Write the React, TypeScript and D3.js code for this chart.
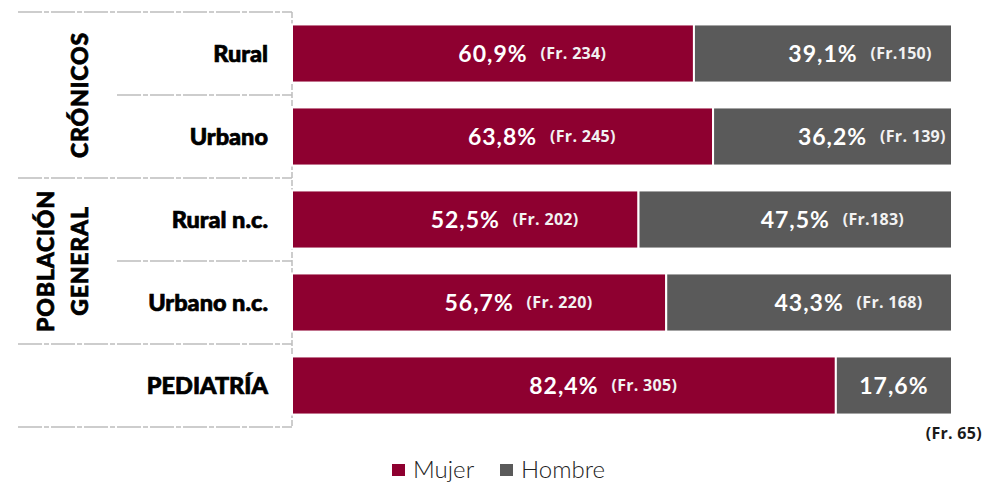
import React from "react";
import * as d3 from "d3";

const rows = ["Rural", "Urbano", "Rural n.c.", "Urbano n.c.", "PEDIATRÍA"];
const mujerPct = [60.9, 63.8, 52.5, 56.7, 82.4];
const hombrePct = [39.1, 36.2, 47.5, 43.3, 17.6];
const mujerFr = ["(Fr. 234)", "(Fr. 245)", "(Fr. 202)", "(Fr. 220)", "(Fr. 305)"];
const hombreFr = ["(Fr.150)", "(Fr. 139)", "(Fr.183)", "(Fr. 168)", "(Fr. 65)"];
const groups = [
  { lines: ["CRÓNICOS"], rows: ["Rural", "Urbano"] },
  { lines: ["POBLACIÓN", "GENERAL"], rows: ["Rural n.c.", "Urbano n.c."] },
];
const seriesNames = ["Mujer", "Hombre"];

const W = 983;
const H = 482;
const RED = "#8e0030";
const GRAY = "#5a5a5a";

const fmt = (v: number) => v.toFixed(1).replace(".", ",") + "%";

export default function App() {
  const x = d3.scaleLinear().domain([0, 100]).range([292, 952]);
  const y = d3.scaleBand<string>().domain(rows).range([12, 427]).paddingInner(0.3).paddingOuter(0.15);
  const step = y.step();
  const top = 12;
  const pctFont = "Lato, 'DejaVu Sans', sans-serif";
  const frFont = "'Open Sans', 'DejaVu Sans', sans-serif";
  const labelFont = "Lato, 'DejaVu Sans', sans-serif";

  const pctWidth = 67;
  const gap = 14;

  const boundaries = rows.map((_, i) => top + (i + 1) * step);

  return (
    <svg width={W} height={H} style={{ position: "absolute", left: 0, top: 0, background: "#fff" }}>
      {/* grid lines */}
      <g stroke="#bdbdbd" strokeWidth={1.5} fill="none">
        <line x1={18} x2={292} y1={top} y2={top} strokeDasharray="24,2,5,2" />
        {boundaries.map((b, i) => {
          const r = rows[i];
          const inGroupNotLast = groups.some(
            (g) => g.rows.indexOf(r) >= 0 && g.rows.indexOf(r) < g.rows.length - 1
          );
          return (
            <line key={i} x1={inGroupNotLast ? 117 : 18} x2={292} y1={b} y2={b} strokeDasharray="24,2,5,2" />
          );
        })}
        <line x1={292} x2={292} y1={top} y2={top + rows.length * step} strokeDasharray="6,2" />
      </g>

      {/* bars */}
      {rows.map((r, i) => {
        const y0 = y(r)!;
        const bh = y.bandwidth();
        const cy = y0 + bh / 2;
        const xm0 = x(0);
        const xm1 = x(mujerPct[i]);
        const xh1 = x(mujerPct[i] + hombrePct[i]);
        const cm = (xm0 + xm1) / 2;
        const ch = (xm1 + xh1) / 2;
        const last = i === rows.length - 1;
        const pctProps = {
          textAnchor: "middle" as const,
          fill: "#fff",
          fontFamily: pctFont,
          fontWeight: 700,
          fontSize: 23,
          letterSpacing: 1,
          dy: "0.38em",
        };
        const frProps = {
          fill: "#f2f2f2",
          fontFamily: frFont,
          fontWeight: 700,
          fontSize: 16,
          letterSpacing: 0.3,
          dy: "0.36em",
        };
        return (
          <g key={r}>
            <rect x={xm0} y={y0} width={xm1 - xm0} height={bh} fill={RED} stroke="#fff" strokeWidth={2} />
            <rect x={xm1} y={y0} width={xh1 - xm1} height={bh} fill={GRAY} stroke="#fff" strokeWidth={2} />
            <text x={cm} y={cy} {...pctProps}>{fmt(mujerPct[i])}</text>
            <text x={cm + pctWidth / 2 + gap} y={cy} {...frProps}>{mujerFr[i]}</text>
            <text x={ch} y={cy} {...pctProps}>{fmt(hombrePct[i])}</text>
            {last ? (
              <text x={W - 1} y={y0 + bh + 24} textAnchor="end" fill="#1a1a1a" fontFamily={frFont} fontWeight={700} fontSize={16} letterSpacing={0.3}>
                {hombreFr[i]}
              </text>
            ) : (
              <text x={ch + pctWidth / 2 + gap} y={cy} {...frProps}>{hombreFr[i]}</text>
            )}
            <text
              x={268}
              y={cy}
              dy="0.36em"
              textAnchor="end"
              fill="#000"
              stroke="#000"
              strokeWidth={0.7}
              fontFamily={labelFont}
              fontWeight={900}
              fontSize={23.5}
            >
              {r}
            </text>
          </g>
        );
      })}

      {/* group labels */}
      {groups.map((g) => {
        const y0 = y(g.rows[0])! - (step - y.bandwidth()) / 2;
        const y1 = y(g.rows[g.rows.length - 1])! + y.bandwidth() + (step - y.bandwidth()) / 2;
        const cy = (y0 + y1) / 2;
        const n = g.lines.length;
        return (
          <g key={g.lines.join()}>
            {g.lines.map((l, k) => {
              const cx = 80 - (n - 1 - k) * 34;
              return (
                <text
                  key={l}
                  transform={`translate(${cx},${cy}) rotate(-90)`}
                  textAnchor="middle"
                  dy="0.36em"
                  fill="#000"
                  stroke="#000"
                  strokeWidth={0.7}
                  fontFamily={labelFont}
                  fontWeight={900}
                  fontSize={23}
                  letterSpacing={0.8}
                >
                  {l}
                </text>
              );
            })}
          </g>
        );
      })}

      {/* legend */}
      <g fontFamily="Lato, 'DejaVu Sans', sans-serif" fontWeight={300} fontSize={24} fill="#222">
        {seriesNames.map((s, i) => {
          const lx = i === 0 ? 392 : 500;
          return (
            <g key={s}>
              <rect x={lx} y={464} width={13} height={12} fill={i === 0 ? RED : GRAY} />
              <text x={lx + 21} y={478}>{s}</text>
            </g>
          );
        })}
      </g>
    </svg>
  );
}
